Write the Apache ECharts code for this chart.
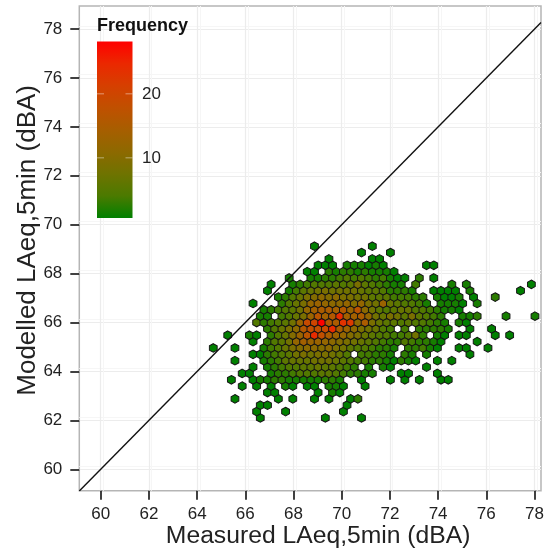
<!DOCTYPE html>
<html><head><meta charset="utf-8">
<style>html,body{margin:0;padding:0;background:#fff}#c{width:545px;height:549px}</style>
<script src="https://cdn.jsdelivr.net/npm/echarts@6/dist/echarts.min.js"></script>
</head><body><div id="c"></div>
<script>
// Hex lattice: each row = [first half-column, counts in steps of two half-columns...]; 0 = empty
const row00=[13,1,0,0,0,0,0,0,0,0,1,0,0,0,0,1];
const row01=[12,1,0,0,0,1,0,0,0,0,0,0,0,1];
const row02=[13,1,1,0,0,0,0,0,0,0,0,0,0,1];
const row03=[6,1,0,0,0,0,0,1,0,1,0,0,1,0,1,0,0,1,3];
const row04=[15,1,1,0,0,0,0,0,1,0,2,1];
const row05=[8,1,0,1,0,1,0,2,1,0,1,1,0,2,2,1,0,0,1];
const row06=[5,1,0,0,1,2,2,3,3,2,2,2,2,2,3,3,2,0,0,1,0,0,0,1,0,1,0,1,0,0,1,1];
const row07=[8,1,1,0,0,2,3,3,4,5,5,5,6,6,5,4,3,3,2,2,0,0,0,1,1,0,0,0,1];
const row08=[11,1,0,2,3,4,5,5,6,6,7,6,6,5,4,3,0,2,0,2,1,0,0,0,0,1];
const row09=[6,1,0,0,0,2,3,4,6,7,7,7,8,8,8,7,6,5,4,4,3,3,2,1,3,2,1,0,0,1,0,1];
const row10=[11,1,1,3,4,5,6,8,9,8,9,9,8,7,5,0,4,4,3,3,2,0,3,2,0,2,0,0,0,0,0,1];
const row11=[0,1,0,0,1,0,0,0,2,4,5,7,9,10,11,11,10,11,9,8,6,5,5,4,3,3,2,0,3,3,4,2,1,0,0,1,1,0,0,1];
const row12=[11,1,0,3,5,6,8,12,14,13,13,12,11,10,9,8,7,6,5,4,3,3,5,4,3,3,2,1,0,0,0,0,1];
const row13=[4,1,0,0,2,1,0,3,5,7,10,13,17,24,18,15,13,12,10,9,7,6,5,5,4,4,5,8,3,0,2,1,0,1,1,0,0,0,1,0,1];
const row14=[15,3,5,7,9,11,16,18,18,19,24,15,13,11,9,8,7,5,4,0,4,0,3,3,3,3,2,0,0,1,0,0,1];
const row15=[12,5,3,4,5,6,8,13,19,20,28,16,15,23,22,11,15,9,7,6,6,5,6,5,5,4,3,2,0,2,1];
const row16=[13,2,2,0,4,5,7,9,13,17,14,16,24,14,14,15,12,8,7,9,8,6,9,6,5,4,3,0,0,2,2,3,0,0,0,2,0,0,0,2];
const row17=[14,2,3,4,5,6,8,12,14,15,15,14,16,13,17,11,8,6,5,6,7,7,5,5,4,3,2,2,1];
const row18=[11,1,0,0,0,3,5,7,9,12,13,12,11,11,12,10,12,9,8,13,7,6,5,5,4,2,0,2,2,2,1,0,2];
const row19=[18,2,3,5,7,9,10,11,10,11,9,9,8,8,6,6,6,4,4,4,3,3,0,2,1,1,2,0,1,0,0,3];
const row20=[15,1,0,0,2,4,6,7,8,9,8,8,8,8,7,6,6,5,3,3,3,2,0,0,1,1,1,1,0,2,0,0,0,0,0,0,1];
const row21=[16,1,0,0,2,3,4,5,5,5,6,5,6,9,6,5,4,3,2,2,0,4,0,0,0,0,2,0,2,0,0,0,0,0,0,0,0,1];
const row22=[21,2,0,0,2,2,3,3,4,5,4,5,4,3,4,2,1,1,0,3,0,1];
const row23=[26,1,1,0,3,2,3,3,2,3,2,2,2,1];
const row24=[29,1,1,1,0,2,2,2,1,2,1,0,0,0,0,0,1,1];
const row25=[32,1,0,0,0,0,0,1,1];
const row26=[41,1,0,0,0,1];
const row27=[28,1,0,0,0,0,0,0,0,1];
const rows=[row00,row01,row02,row03,row04,row05,row06,row07,row08,row09,row10,row11,row12,row13,row14,row15,row16,row17,row18,row19,row20,row21,row22,row23,row24,row25,row26,row27];

const xTicks=[60,62,64,66,68,70,72,74,76,78];
const yTicks=[60,62,64,66,68,70,72,74,76,78];
const xRange=[59.11,78.27];
const yRange=[59.125,78.94];
const lineX=[59.11,78.27];
const lineY=[59.11,78.27];
const xStart=64.67, xHalfStep=0.15, yStart=62.1, yStep=0.26;
const colourRamp=['#008000','#4b7a00','#6f7300','#8d6900','#a75e00','#c05000','#d63f00','#eb2800','#ff0000'];
const countRange=[1,28];
const legendTicks=[10,20];
const legendTitle='Frequency';

const cells=[];
rows.forEach((r,k)=>{for(let i=1;i<r.length;i++){if(r[i]>0){
  cells.push([xStart+xHalfStep*(r[0]+2*(i-1)),yStart+yStep*k,r[i]]);}}});

const hexPath='path://M0,-1.155L1,-0.577L1,0.577L0,1.155L-1,0.577L-1,-0.577Z';
const font='"Liberation Sans",Arial,sans-serif';
const gL=79.3,gT=6,gR=4,gB=58.3;
const legX=97,legTop=41.5,legW=35.5,legH=176.5;
const legY=v=>218-(v-countRange[0]+0.4)*6.4;

function axis(name,range,ticks,margin,extra){
  return Object.assign({type:'value',min:range[0],max:range[1],interval:2,name:name,nameLocation:'middle',nameMoveOverlap:false,
    axisLine:{show:false},
    axisTick:{length:9,lineStyle:{color:'#111',width:1.6},customValues:ticks},
    axisLabel:{fontFamily:font,fontSize:17,color:'#222',customValues:ticks,margin:margin},
    splitLine:{show:true,lineStyle:{color:'#ececec',width:1.2}},
    minorTick:{show:false,splitNumber:2},
    minorSplitLine:{show:true,lineStyle:{color:'#f6f6f6',width:1}}},extra);
}

const chart=echarts.init(document.getElementById('c'),null,{renderer:'canvas'});
chart.setOption({
  animation:false,backgroundColor:'#fff',
  grid:{left:gL,top:gT,right:gR,bottom:gB,show:true,borderColor:'#b5b5b5',borderWidth:1.5,backgroundColor:'transparent',outerBoundsMode:'none'},
  xAxis:axis('Measured LAeq,5min (dBA)',xRange,xTicks,15,{nameGap:33,nameTextStyle:{fontFamily:font,fontSize:24.7,color:'#222',padding:[0,0,0,16]}}),
  yAxis:axis('Modelled LAeq,5min (dBA)',yRange,yTicks,17,{nameGap:38,nameTextStyle:{fontFamily:font,fontSize:26,color:'#222',padding:[0,0,0,16]}}),
  visualMap:{show:false,type:'continuous',min:countRange[0],max:countRange[1],dimension:2,seriesIndex:0,inRange:{color:colourRamp}},
  series:[
    {type:'scatter',data:cells,symbol:hexPath,symbolSize:[7.8,8.6],itemStyle:{borderColor:'#141414',borderWidth:1,opacity:1},silent:true,z:3},
    {type:'line',data:lineX.map((x,i)=>[x,lineY[i]]),symbol:'none',lineStyle:{color:'#111',width:1.4},silent:true,z:4}
  ],
  graphic:[
    {type:'rect',z:10,shape:{x:legX,y:legTop,width:legW,height:legH},
     style:{fill:new echarts.graphic.LinearGradient(0,1,0,0,colourRamp.map((c,i)=>({offset:i/(colourRamp.length-1),color:c})))}},
    {type:'text',z:11,x:legX,y:17,style:{text:legendTitle,fontFamily:font,fontSize:18,fontWeight:'bold',fill:'#111'}}
  ].concat(legendTicks.flatMap(v=>[
    {type:'text',z:11,x:legX+45,y:legY(v)-8,style:{text:String(v),fontFamily:font,fontSize:17,fill:'#222'}},
    {type:'line',z:11,shape:{x1:legX,y1:legY(v),x2:legX+7,y2:legY(v)},style:{stroke:'rgba(255,255,255,.45)',lineWidth:1}},
    {type:'line',z:11,shape:{x1:legX+legW-7,y1:legY(v),x2:legX+legW,y2:legY(v)},style:{stroke:'rgba(255,255,255,.45)',lineWidth:1}}
  ]))
});
</script></body></html>
